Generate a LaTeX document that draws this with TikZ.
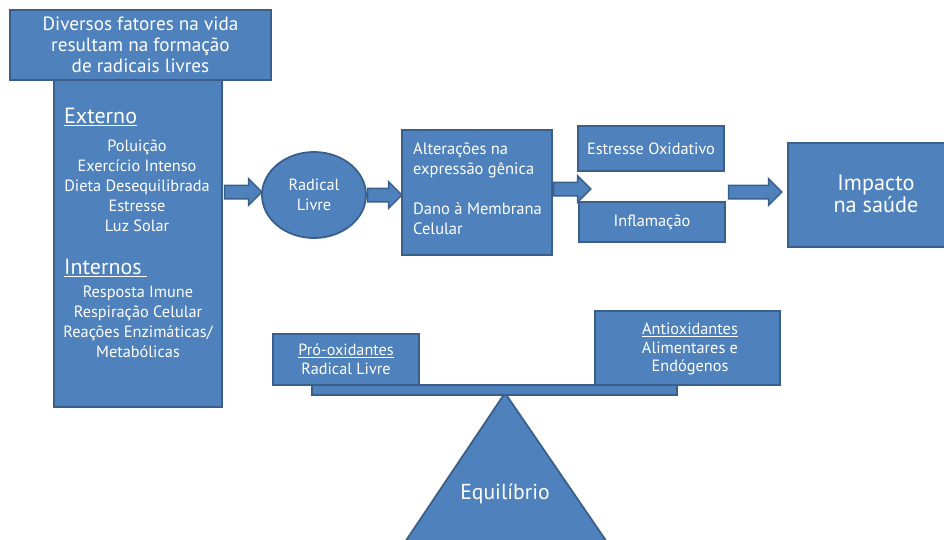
\documentclass[tikz,border=0pt]{standalone}
\usepackage{fontspec}
\setmainfont{PT Sans}
\usetikzlibrary{shapes.arrows,shapes.geometric,calc}
\definecolor{boxfill}{HTML}{4F81BD}
\definecolor{boxline}{HTML}{3A5F8B}
\newcommand\blockarr[2]{\path let \p1=(#1), \p2=(#2) in node[barr, minimum height={\x2-\x1}, anchor=tail] at (\p1) {};}
\begin{document}
\begin{tikzpicture}[x=1pt,y=-1pt,
  box/.style={draw=boxline, fill=boxfill, line width=1.8pt, text=white, inner sep=0pt},
  txt/.style={text=white, inner sep=0pt, align=center, font=\fontsize{16.3}{20}\selectfont},
  barr/.style={single arrow, draw=boxline, fill=boxfill, line width=1.5pt,
    inner xsep=0pt, inner ysep=6pt, single arrow head extend=6.5pt}]
\useasboundingbox (0,0) rectangle (944,539);
\begin{scope}
\clip (0,0) rectangle (944,539);
% left column
\node[box, minimum width=168pt, minimum height=329pt] (left) at (138,242.5) {};
\node[box, minimum width=261pt, minimum height=70pt] (top) at (140.5,45) {};
\node[txt, font=\fontsize{19.2}{21}\selectfont] (toptxt) at (top.center) {Diversos fatores na vida\\resultam na formação\\de radicais livres};
\node[txt, anchor=west, font=\fontsize{22}{22}\selectfont] (ext) at (64,117) {\underline{Externo}};
\node[txt] (extlist) at (137,186) {Poluição\\Exercício Intenso\\Dieta Desequilibrada\\Estresse\\Luz Solar};
\node[txt, anchor=west, font=\fontsize{22}{22}\selectfont] (int) at (64,268) {\underline{Internos\ }};
\node[txt] (intlist) at (138,322) {Resposta Imune\\Respiração Celular\\Reações Enzimáticas/\\Metabólicas};
% flow
\node[box, ellipse, minimum width=104pt, minimum height=86pt] (ell) at (314,195) {};
\node[txt] at (ell.center) {Radical\\Livre};
\node[box, minimum width=150pt, minimum height=125pt] (alt) at (477,192.5) {};
\node[txt, align=left, anchor=west, font=\fontsize{16.5}{20}\selectfont] at (413,188.5) {Alterações na\\expressão gênica\\[20pt]Dano à Membrana\\Celular};
\node[box, minimum width=146pt, minimum height=45pt] (est) at (651,148.5) {};
\node[txt] at (est.center) {Estresse Oxidativo};
\node[box, minimum width=146pt, minimum height=40pt] (inf) at (652,222) {};
\node[txt] at (inf.center) {Inflamação};
\node[box, minimum width=162pt, minimum height=104pt] (imp) at (869,195) {};
\node[txt, font=\fontsize{22.3}{22}\selectfont] at (876,194) {Impacto\\na saúde};
% arrows
\coordinate (a1s) at ($(left.east |- 0,192)+(1,0)$);
\coordinate (a1e) at (ell.west |- 0,192);
\coordinate (a2s) at (ell.east |- 0,195);
\coordinate (a2e) at (alt.west |- 0,195);
\coordinate (a3s) at (alt.east |- 0,189);
\coordinate (a3e) at (590,189);
\coordinate (a4s) at ($(inf.east |- 0,192)+(2,0)$);
\coordinate (a4e) at ($(imp.west |- 0,192)+(-6,0)$);
\blockarr{a1s}{a1e}
\blockarr{a2s}{a2e}
\blockarr{a3s}{a3e}
\blockarr{a4s}{a4e}
% balance
\draw[box, line join=round] (505,393) -- (403,545) -- (609,545) -- cycle;
\node[txt, font=\fontsize{21.7}{22}\selectfont] (eq) at (505,494) {Equilíbrio};
\node[box, minimum width=365pt, minimum height=10pt] (beam) at (494.5,390) {};
\node[box, minimum width=146pt, minimum height=51pt] (pro) at (346,359.5) {};
\node[txt, font=\fontsize{16.2}{19}\selectfont] at (pro.center) {\underline{Pró-oxidantes}\\Radical Livre};
\node[box, minimum width=185pt, minimum height=74pt] (anti) at (687.5,348) {};
\node[txt, font=\fontsize{16.3}{18.5}\selectfont] at (690,349) {\underline{Antioxidantes}\\Alimentares e\\Endógenos};
\end{scope}
\end{tikzpicture}
\end{document}
